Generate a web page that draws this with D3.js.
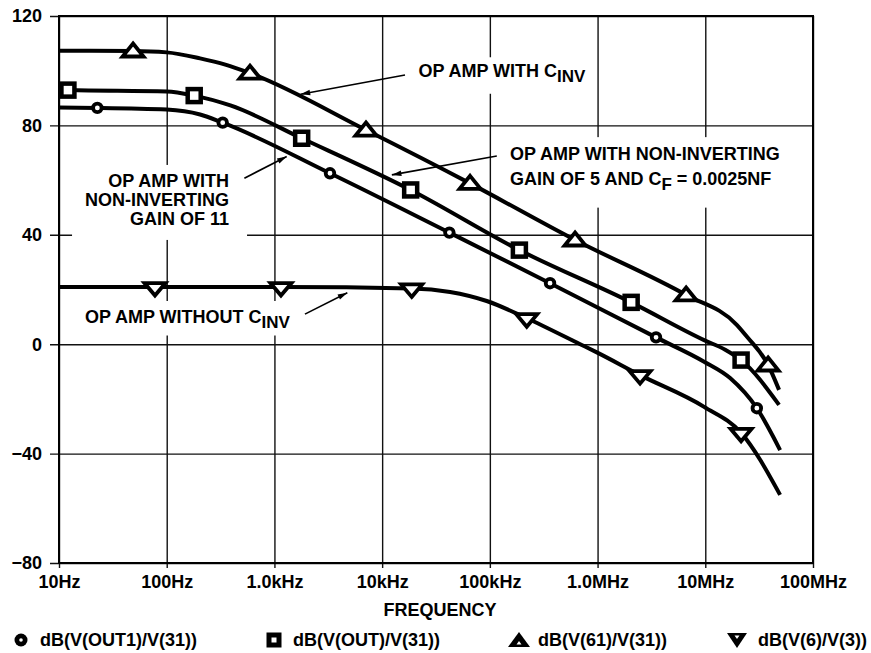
<!DOCTYPE html>
<html>
<head>
<meta charset="utf-8">
<script src="https://cdn.jsdelivr.net/npm/d3@7"></script>
<style>
    body { margin: 0; background: #fff; }
    text { font-family: "Liberation Sans", Arial, sans-serif; font-weight: bold; fill: #000; }
</style>
</head>
<body>
<svg id="chart" width="871" height="653"></svg>
<script>

// axis ticks
var freqTicks = [10, 100, 1e3, 1e4, 1e5, 1e6, 1e7, 1e8];
var freqLabels = ["10Hz", "100Hz", "1.0kHz", "10kHz", "100kHz", "1.0MHz", "10MHz", "100MHz"];
var dbTicks = [-80, -40, 0, 40, 80, 120];

// series: [frequency Hz, dB]
var out1Curve = [[10, 86.5], [22.7, 86.4], [100, 85.8], [204, 84.0], [331, 81.0], [3280, 62.5], [42100, 40.8],
    [362000, 22.3], [3.49e6, 2.5], [9.75e6, -6.4], [17e6, -12.4], [30.1e6, -23.4], [49.5e6, -38.7]];
var out1Marks = [[22.7, 86.4], [331, 81.0], [3280, 62.5], [42100, 40.8], [362000, 22.3], [3.49e6, 2.5], [30.1e6, -23.4]];

var outCurve = [[10, 93.0], [12.1, 92.9], [100, 92.4], [180, 90.9], [390, 87.3], [1790, 75.3], [18400, 56.4],
    [188000, 34.4], [2.05e6, 15.3], [9.75e6, 1.5], [15.3e6, -2.0], [21.5e6, -5.8], [48.4e6, -22.2]];
var outMarks = [[12.1, 92.9], [180, 90.9], [1790, 75.3], [18400, 56.4], [188000, 34.4], [2.05e6, 15.3], [21.5e6, -5.8]];

var v61Curve = [[10, 107.3], [48.7, 107.2], [100, 106.7], [204, 104.5], [350, 102.2], [593, 99.1], [7080, 78.3],
    [65500, 58.8], [618000, 38.1], [6.64e6, 18.0], [19.7e6, 7.0], [24.4e6, 2.7], [38.3e6, -7.6], [48.4e6, -16.7]];
var v61Marks = [[48.7, 107.2], [593, 99.1], [7080, 78.3], [65500, 58.8], [618000, 38.1], [6.64e6, 18.0], [38.3e6, -7.6]];

var v6Curve = [[10, 20.9], [77.8, 20.9], [1150, 20.9], [18800, 20.4], [42700, 19.1], [93500, 15.8], [220000, 9.5],
    [689000, 0], [984000, -3.0], [2.48e6, -11.3], [9.75e6, -22.9], [21.5e6, -32.4], [49.5e6, -55.1]];
var v6Marks = [[77.8, 20.9], [1150, 20.9], [18800, 20.4], [220000, 9.5], [2.48e6, -11.3], [21.5e6, -32.4]];

var legendLabels = ["dB(V(OUT1)/V(31))", "dB(V(OUT)/V(31))", "dB(V(61)/V(31))", "dB(V(6)/V(3))"];

var svg = d3.select("#chart");
var plotLeft = 59, plotRight = 813, plotTop = 16, plotBottom = 563;

var x = d3.scaleLog().domain([10, 1e8]).range([plotLeft, plotRight]);
var y = d3.scaleLinear().domain([-80, 120]).range([plotBottom, plotTop]);

// marker shapes
var shapes = {
    circle: function (g) { g.append("circle").attr("r", 4.3); },
    square: function (g) { g.append("rect").attr("x", -6.5).attr("y", -6.5).attr("width", 13).attr("height", 13); },
    up: function (g) { g.append("path").attr("d", "M0,-7.5L10.5,5.5L-10.5,5.5Z"); },
    down: function (g) { g.append("path").attr("d", "M0,8.5L10.5,-4L-10.5,-4Z"); }
};

// grid + axes
var xAxis = svg.append("g")
    .attr("transform", "translate(0," + plotBottom + ")")
    .call(d3.axisBottom(x).tickValues(freqTicks).tickFormat(function (d, i) { return freqLabels[i]; })
        .tickSize(-(plotBottom - plotTop)).tickPadding(12));
xAxis.select(".domain").remove();
xAxis.selectAll("line").attr("y1", 5).attr("stroke", "#111").attr("stroke-width", 1.4);
xAxis.selectAll("text").attr("font-size", 18).attr("font-family", null);

var yAxis = svg.append("g")
    .attr("transform", "translate(" + plotLeft + ",0)")
    .call(d3.axisLeft(y).tickValues(dbTicks).tickSize(-(plotRight - plotLeft)).tickPadding(17));
yAxis.select(".domain").remove();
yAxis.selectAll("line").attr("x1", -9).attr("stroke", "#111").attr("stroke-width", 1.4);
yAxis.selectAll("text").attr("font-size", 18).attr("font-family", null).attr("dy", "0.33em");

svg.append("text")
    .attr("x", (plotLeft + plotRight) / 2 + 4)
    .attr("y", 616)
    .attr("text-anchor", "middle")
    .attr("font-size", 18)
    .text("FREQUENCY");

// annotations (positions in Hz / dB)
var annotations = [
    {at: [21700, 97.6], anchor: "start", lines: [["OP AMP WITH C", "INV"]], from: [16300, 98.4], to: [1750, 91.4], pad: [4, 8, 8, 8]},
    {at: [154000, 67.3], anchor: "start", lines: [["OP AMP WITH NON-INVERTING"], ["GAIN OF 5 AND C", "F", " = 0.0025NF"]], from: [116000, 68.8], to: [12300, 61.9], pad: [7, 12, 14, 10]},
    {at: [379, 57.5], anchor: "end", lines: [["OP AMP WITH"], ["NON-INVERTING"], ["GAIN OF 11"]], from: [526, 60.7], to: [1300, 68.6], pad: [6, 18, 11, 13]},
    {at: [17.4, 7.75], anchor: "start", lines: [["OP AMP WITHOUT C", "INV"]], from: [1920, 11.0], to: [4750, 18.8], pad: [6, 6, 4, 6]}
];

svg.append("defs").append("marker")
    .attr("id", "head")
    .attr("viewBox", "0 -5 12 10")
    .attr("refX", 12).attr("refY", 0)
    .attr("markerWidth", 12).attr("markerHeight", 8)
    .attr("markerUnits", "userSpaceOnUse")
    .attr("orient", "auto")
    .append("path").attr("d", "M0,-3.5L12,0L0,3.5Z").attr("fill", "#000");

var bgLayer = svg.append("g");
var curveLayer = svg.append("g");
var annLayer = svg.append("g");

annotations.forEach(function (a) {
    var t = annLayer.append("text")
        .attr("x", x(a.at[0]))
        .attr("y", y(a.at[1]))
        .attr("text-anchor", a.anchor)
        .attr("font-size", 18);
    a.lines.forEach(function (parts, li) {
        t.append("tspan").attr("x", x(a.at[0])).attr("dy", li === 0 ? 0 : (a.lines.length > 2 ? 19 : 25)).text(parts[0]);
        if (parts.length > 1) {
            t.append("tspan").attr("dy", 4.5).attr("font-size", 17).text(parts[1]);
        }
        if (parts.length > 2) {
            t.append("tspan").attr("dy", -4.5).text(parts[2]);
        }
    });
    var b = t.node().getBBox();
    bgLayer.append("rect")
        .attr("x", b.x - a.pad[3]).attr("y", b.y - a.pad[0])
        .attr("width", b.width + a.pad[1] + a.pad[3]).attr("height", b.height + a.pad[0] + a.pad[2])
        .attr("fill", "#fff");
    annLayer.append("line")
        .attr("x1", x(a.from[0])).attr("y1", y(a.from[1]))
        .attr("x2", x(a.to[0])).attr("y2", y(a.to[1]))
        .attr("stroke", "#000").attr("stroke-width", 1.6)
        .attr("marker-end", "url(#head)");
});

// frame
svg.append("rect")
    .attr("x", plotLeft).attr("y", plotTop)
    .attr("width", plotRight - plotLeft).attr("height", plotBottom - plotTop)
    .attr("fill", "none").attr("stroke", "#000").attr("stroke-width", 2);

// curves
var line = d3.line()
    .x(function (d) { return x(d[0]); })
    .y(function (d) { return y(d[1]); })
    .curve(d3.curveMonotoneX);

var series = [
    {curve: out1Curve, marks: out1Marks, shape: "circle"},
    {curve: outCurve, marks: outMarks, shape: "square"},
    {curve: v61Curve, marks: v61Marks, shape: "up"},
    {curve: v6Curve, marks: v6Marks, shape: "down"}
];

series.forEach(function (s) {
    curveLayer.append("path")
        .attr("d", line(s.curve))
        .attr("fill", "none")
        .attr("stroke", "#000")
        .attr("stroke-width", 4);
});

series.forEach(function (s) {
    curveLayer.selectAll(null)
        .data(s.marks)
        .enter().append("g")
        .attr("transform", function (d) { return "translate(" + x(d[0]) + "," + y(d[1]) + ")"; })
        .attr("fill", "#fff")
        .attr("stroke", "#000")
        .attr("stroke-width", s.shape === "square" ? 4.5 : 3.8)
        .each(function () { shapes[s.shape](d3.select(this)); });
});

// legend
var legendX = [21, 274, 519, 737];
var legendShapes = [
    function (g) { g.append("circle").attr("r", 6.5).attr("fill", "#000"); g.append("circle").attr("r", 1.8).attr("fill", "#fff"); },
    function (g) { g.append("rect").attr("x", -7.5).attr("y", -7.5).attr("width", 15).attr("height", 15).attr("fill", "#000");
                   g.append("rect").attr("x", -2.5).attr("y", -2.5).attr("width", 5).attr("height", 5).attr("fill", "#fff"); },
    function (g) { g.append("path").attr("d", "M0,-8L11,7L-11,7Z").attr("fill", "#000");
                   g.append("path").attr("d", "M0,1L2.5,4.5L-2.5,4.5Z").attr("fill", "#fff"); },
    function (g) { g.append("path").attr("d", "M0,8L10,-7L-10,-7Z").attr("fill", "#000");
                   g.append("path").attr("d", "M0,-1L2.5,-4.5L-2.5,-4.5Z").attr("fill", "#fff"); }
];

legendLabels.forEach(function (label, i) {
    var g = svg.append("g").attr("transform", "translate(" + legendX[i] + ",640)");
    legendShapes[i](g);
    g.append("text")
        .attr("x", i === 3 ? 21 : 19)
        .attr("y", 6)
        .attr("font-size", 18)
        .text(label);
});

</script>
</body>
</html>
